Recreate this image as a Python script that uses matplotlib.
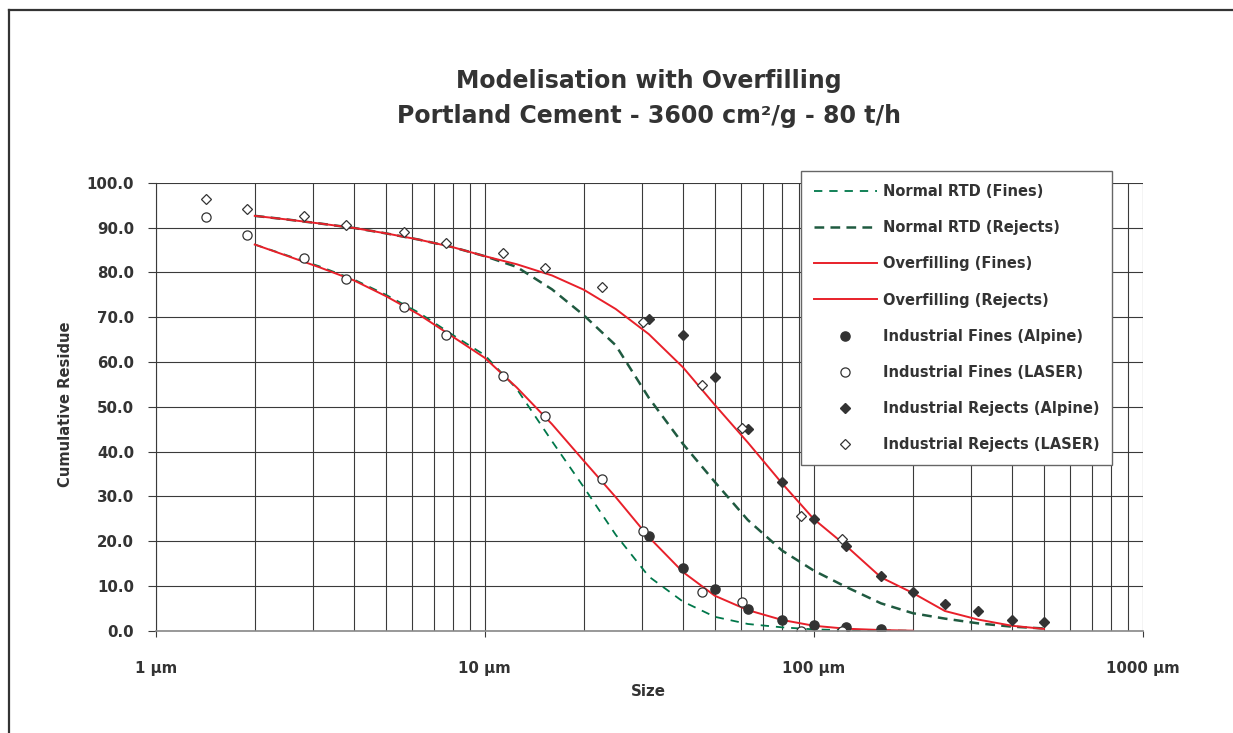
import matplotlib
matplotlib.use("Agg")
import matplotlib.pyplot as plt
from matplotlib.lines import Line2D
from matplotlib.ticker import FixedLocator, LogLocator, NullFormatter

plt.rcParams['font.family'] = ['DejaVu Sans']
plt.rcParams['font.weight'] = 'bold'
plt.rcParams['lines.scale_dashes'] = False

# model curves (R10 sizes)
x_curve = [2, 2.5, 3.15, 4, 5, 6.3, 8, 10, 12.5, 16, 20, 25, 31.5, 40, 50,
           63, 80, 100, 125, 160, 200, 250, 315, 400, 500]
normal_fines = [86.2, 83.8, 81.3, 78.4, 75.0, 71.0, 66.0, 61.5, 54.0, 42.3,
                32.0, 21.4, 12.1, 6.5, 3.1, 1.5, 0.75, 0.3, 0.1, 0.05, 0.0]
normal_rejects = [92.6, 91.8, 90.9, 89.9, 88.7, 87.3, 85.6, 83.6, 81.2, 76.2,
                  70.4, 63.7, 52.0, 41.7, 33.2, 24.7, 17.9, 13.4, 9.8, 6.1,
                  3.9, 2.7, 1.65, 0.9, 0.5]
overfill_fines = [86.2, 83.7, 81.1, 78.2, 74.7, 70.6, 65.6, 60.9, 54.3, 46.1,
                  37.9, 29.8, 20.9, 13.1, 7.8, 4.6, 2.4, 1.1, 0.45, 0.15, 0.0]
overfill_rejects = [92.6, 91.8, 90.9, 89.9, 88.7, 87.3, 85.6, 83.6, 81.8, 79.3,
                    76.1, 71.8, 66.2, 58.8, 50.4, 42.0, 32.9, 24.9, 19.0, 11.9,
                    8.4, 4.4, 2.5, 1.1, 0.4]

# industrial measurements
laser_x = [1.42, 1.9, 2.83, 3.78, 5.69, 7.6, 11.34, 15.2, 22.75, 30.3, 45.6,
           60.6, 91.2, 121.7]
fines_laser = [92.3, 88.4, 83.3, 78.6, 72.3, 66.1, 56.9, 48.0, 33.9, 22.3, 8.7,
               6.4, 0.0, 0.0]
rejects_laser = [96.4, 94.2, 92.6, 90.6, 89.1, 86.6, 84.4, 80.9, 76.7, 69.0,
                 54.8, 45.3, 25.7, 20.5]
alpine_x = [31.5, 40, 50, 63, 80, 100, 125, 160, 200, 250, 315, 400, 500]
fines_alpine = [21.1, 14.1, 9.4, 4.9, 2.3, 1.2, 0.8, 0.4]
rejects_alpine = [69.6, 66.1, 56.6, 45.0, 33.3, 24.9, 19.0, 12.1, 8.6, 6.0,
                  4.5, 2.5, 1.9]

x_ticks = [1, 10, 100, 1000]
x_ticklabels = ['1 µm', '10 µm', '100 µm', '1000 µm']
y_ticks = [0, 10, 20, 30, 40, 50, 60, 70, 80, 90, 100]

red = '#e8202a'
green1 = '#00774a'
green2 = '#1f5a40'
dark = '#333333'

fig = plt.figure(figsize=(12.33, 7.33), dpi=100)
ax = fig.add_axes([155.7 / 1233, 1 - 630.7 / 733, 987.3 / 1233, 448 / 733])

nf = len(normal_fines)
ax.plot(x_curve[:nf], normal_fines, color=green1, lw=1.3, dashes=(6, 5),
        label='Normal RTD (Fines)')
ax.plot(x_curve, normal_rejects, color=green2, lw=1.8, dashes=(7, 4.5),
        label='Normal RTD (Rejects)')
ax.plot(x_curve[:len(overfill_fines)], overfill_fines, color=red, lw=1.4,
        label='Overfilling (Fines)')
ax.plot(x_curve, overfill_rejects, color=red, lw=1.4,
        label='Overfilling (Rejects)')
ax.plot(alpine_x[:len(fines_alpine)], fines_alpine, 'o', color=dark, ms=6.6,
        ls='none', label='Industrial Fines (Alpine)')
ax.plot(laser_x, fines_laser, 'o', mfc='white', mec=dark, mew=0.9, ms=6.6,
        ls='none', label='Industrial Fines (LASER)')
ax.plot(alpine_x, rejects_alpine, 'D', color=dark, ms=5, ls='none',
        label='Industrial Rejects (Alpine)')
ax.plot(laser_x, rejects_laser, 'D', mfc='white', mec=dark, mew=0.9, ms=4.6,
        ls='none', label='Industrial Rejects (LASER)')

ax.set_xscale('log')
ax.set_xlim(1, 1000)
ax.set_ylim(0, 100)
ax.xaxis.set_major_locator(FixedLocator(x_ticks))
ax.set_xticklabels(x_ticklabels)
ax.xaxis.set_minor_locator(LogLocator(base=10, subs=range(2, 10)))
ax.xaxis.set_minor_formatter(NullFormatter())
ax.set_yticks(y_ticks)
ax.set_yticklabels(['%.1f' % v for v in y_ticks])
ax.grid(True, which='both', color='#3a3a3a', lw=0.8)
ax.set_axisbelow(True)
for s in ['top', 'right']:
    ax.spines[s].set_visible(False)
ax.spines['left'].set_color('#3a3a3a')
ax.spines['bottom'].set_color('#888888')
ax.spines['bottom'].set_linewidth(1.2)
ax.tick_params(axis='x', which='major', length=4.5, width=0.8,
               color='#3a3a3a', pad=17, labelsize=10.8, labelcolor=dark)
ax.tick_params(axis='x', which='minor', length=0)
ax.tick_params(axis='y', length=5.5, width=0.8, color='#3a3a3a', pad=10,
               labelsize=10.8, labelcolor=dark)

fig.text(649 / 1233, 1 - 81 / 733, 'Modelisation with Overfilling',
         ha='center', va='center', fontsize=17, fontweight='bold', color=dark)
fig.text(649 / 1233, 1 - 116 / 733, 'Portland Cement - 3600 cm²/g - 80 t/h',
         ha='center', va='center', fontsize=17, fontweight='bold', color=dark)
fig.text(648 / 1233, 1 - 692 / 733, 'Size', ha='center', va='center',
         fontsize=10.8, fontweight='bold', color=dark)
fig.text(66 / 1233, 1 - 404 / 733, 'Cumulative Residue', ha='center',
         va='center', rotation=90, fontsize=10.6, fontweight='bold', color=dark)

leg = fig.legend(loc='upper left', bbox_to_anchor=(801 / 1233, 1 - 171 / 733),
                 borderaxespad=0, fontsize=10.5, handlelength=4.3,
                 handletextpad=0.4, labelspacing=1.45, borderpad=0.9,
                 fancybox=False, framealpha=1, edgecolor='#666666')
leg.get_frame().set_linewidth(1.0)
for t in leg.get_texts():
    t.set_color(dark)

# outer chart frame
fig.add_artist(Line2D([9 / 1233, 9 / 1233], [0, 1 - 10 / 733], color=dark,
                      lw=1.6, transform=fig.transFigure))
fig.add_artist(Line2D([9 / 1233, 1], [1 - 10 / 733, 1 - 10 / 733], color=dark,
                      lw=1.6, transform=fig.transFigure))

fig.savefig('out.png', dpi=100)
